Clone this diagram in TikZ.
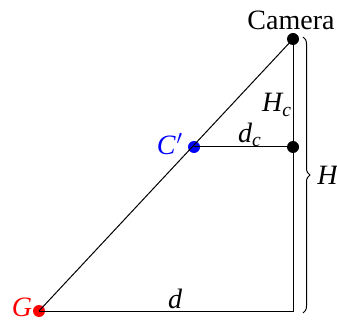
\documentclass[tikz,border=0pt]{standalone}
\usepackage[no-math]{fontspec}
\setmainfont{Liberation Serif}
\usepackage{tikz}
\usetikzlibrary{positioning,decorations.pathreplacing}

\begin{document}
\begin{tikzpicture}[x=0.5pt,y=-0.5pt,font=\fontsize{14}{16}\selectfont,
  pt/.style={circle,fill=#1,inner sep=0pt,minimum size=6pt},
  ln/.style={line width=0.5pt},
  lbl/.style={inner sep=0pt,font=\fontsize{14}{16}\selectfont\itshape}]
\useasboundingbox (0,0) rectangle (337,320);
% points
\node[pt=black] (cam) at (293,39) {};
\node[pt=black] (foot) at (293,147) {};
\node[pt=blue] (cp) at (194,147) {};
\node[pt=red] (g) at (39,311) {};
\coordinate (base) at (293,311);
% lines
\draw[ln] (g.center) -- (cam.center);
\draw[ln] (cp.center) -- (foot.center);
\draw[ln] (cam.center) -- (base) -- (g.center);
% brace
\draw[ln,decorate,decoration={brace,amplitude=3.5pt}] (303,37) -- coordinate[xshift=4pt] (tip) (303,313);
% labels
\node[inner sep=0pt] (camlbl) at (291,20) {Camera};
\node[lbl] (hc) at (277,105) {H\textsubscript{c}};
\node[lbl] (dc) at (250,135) {d\textsubscript{c}};
\node[lbl,text=blue] (cplbl) at (170,144) {C\kern0.5pt\textup{$'$}};
\node[lbl,anchor=west] (hlbl) at ([xshift=3pt]tip) {H};
\node[lbl] (dlbl) at (175,299) {d};
\node[lbl,text=red,left=0pt of g,yshift=2pt] (glbl) {G};
\end{tikzpicture}
\end{document}
